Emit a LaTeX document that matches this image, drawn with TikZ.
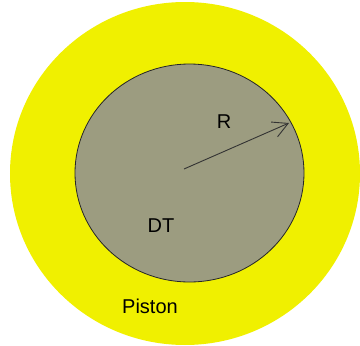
\documentclass[tikz,border=0pt]{standalone}
\usepackage{fontspec}
\setmainfont{Liberation Sans}
\usetikzlibrary{arrows.meta}
\definecolor{pistonyellow}{RGB}{240,240,0}
\definecolor{dtgray}{RGB}{156,156,128}

\begin{document}
\begin{tikzpicture}[x=1pt, y=-1pt, font=\fontsize{20}{24}\selectfont]
            \useasboundingbox (0,0) rectangle (360,346);
            % Piston
            \fill[pistonyellow] (185,173.5) ellipse [x radius=175, y radius=171.5];
            % DT
            \draw[fill=dtgray, draw=black!85, line width=0.8pt] (189.5,173) ellipse [x radius=114.5, y radius=109];
            
            % Radius
            \coordinate (O) at (184,169);
            \coordinate (E) at (289,123); % On the DT edge
            \draw[-{Straight Barb[length=15pt, width=16pt]}, black!80, line width=0.9pt] (O) -- (E);
            
            % Labels
            \node (R) at (224,122) {R};
            \node (DT) at (161,226) {DT};
            \node (piston) at (150,306) {Piston};
        \end{tikzpicture}
\end{document}
